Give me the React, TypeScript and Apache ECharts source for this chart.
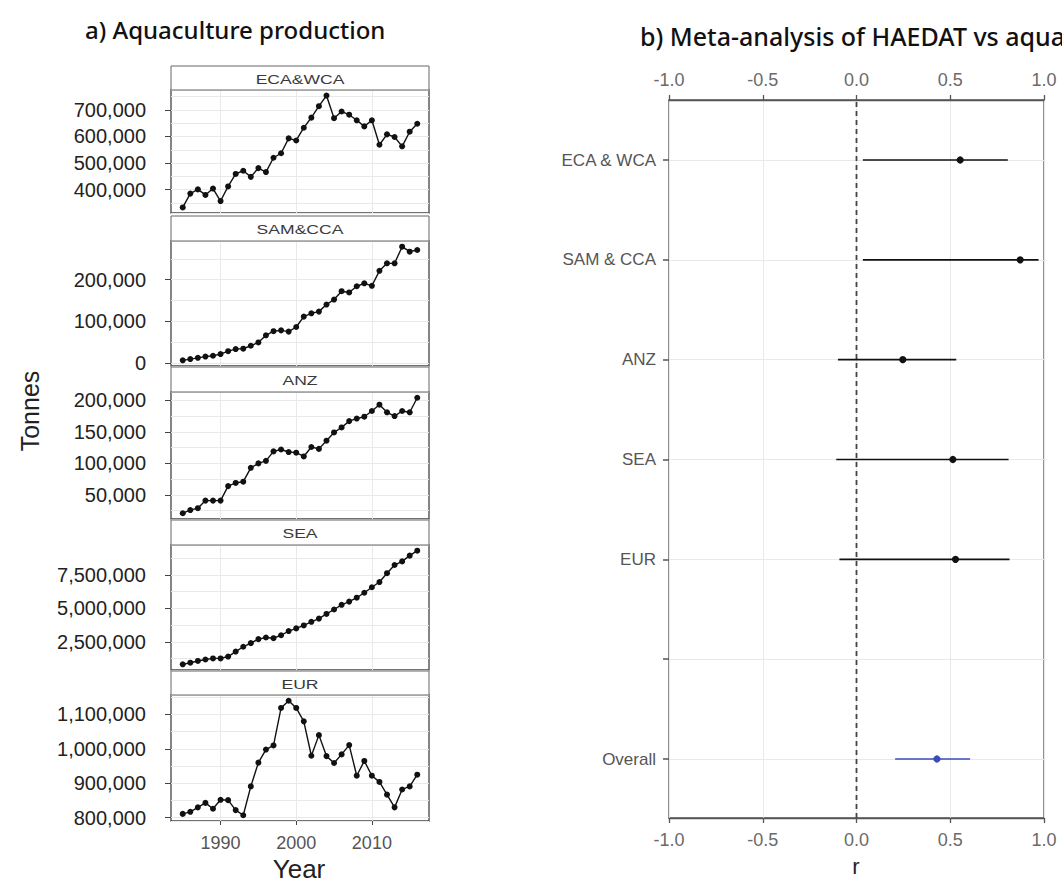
import React, { useEffect, useRef } from "react";
import * as echarts from "echarts";

// ---------- data ----------
const years = [
  1985, 1986, 1987, 1988, 1989, 1990, 1991, 1992, 1993, 1994, 1995, 1996, 1997, 1998, 1999, 2000,
  2001, 2002, 2003, 2004, 2005, 2006, 2007, 2008, 2009, 2010, 2011, 2012, 2013, 2014, 2015, 2016,
];
const ecaWca = [
  333000, 385000, 401000, 380000, 404000, 357000, 412000, 459000, 471000, 448000, 481000, 466000,
  520000, 537000, 593000, 585000, 633000, 671000, 714000, 754000, 669000, 694000, 682000, 661000,
  638000, 661000, 569000, 608000, 598000, 563000, 618000, 648000,
];
const samCca = [
  6000, 9000, 12000, 15000, 17000, 21000, 28000, 33000, 34000, 41000, 49000, 66000, 76000, 78000,
  75000, 86000, 111000, 119000, 123000, 140000, 152000, 172000, 169000, 184000, 191000, 185000,
  221000, 239000, 239000, 279000, 267000, 271000,
];
const anz = [
  21000, 26000, 29000, 41000, 41000, 41000, 64000, 69000, 71000, 93000, 100000, 104000, 119000,
  122000, 118000, 117000, 111000, 126000, 123000, 136000, 149000, 157000, 167000, 171000, 174000,
  183000, 193000, 181000, 175000, 183000, 181000, 204000,
];
const sea = [
  820000, 940000, 1070000, 1180000, 1260000, 1260000, 1400000, 1770000, 2130000, 2400000, 2700000,
  2820000, 2770000, 2990000, 3300000, 3500000, 3720000, 3990000, 4230000, 4580000, 4910000,
  5260000, 5500000, 5790000, 6160000, 6570000, 6960000, 7620000, 8230000, 8500000, 8930000, 9300000,
];
const eur = [
  811000, 817000, 830000, 843000, 826000, 852000, 851000, 822000, 807000, 891000, 960000, 998000,
  1010000, 1119000, 1140000, 1119000, 1080000, 980000, 1040000, 979000, 959000, 984000, 1011000,
  922000, 965000, 922000, 904000, 867000, 830000, 882000, 891000, 925000,
];

const facetNames = ["ECA&WCA", "SAM&CCA", "ANZ", "SEA", "EUR"];
const ecaTicks = [400000, 500000, 600000, 700000];
const samTicks = [0, 100000, 200000];
const anzTicks = [50000, 100000, 150000, 200000];
const seaTicks = [2500000, 5000000, 7500000];
const eurTicks = [800000, 900000, 1000000, 1100000];
const yearTicks = [1990, 2000, 2010];

const forestLabels = ["ECA & WCA", "SAM & CCA", "ANZ", "SEA", "EUR", "", "Overall"];
const forestEst = [0.553, 0.873, 0.247, 0.514, 0.528, null, 0.429];
const forestLo = [0.034, 0.034, -0.099, -0.108, -0.091, null, 0.206];
const forestHi = [0.807, 0.971, 0.532, 0.811, 0.816, null, 0.606];
const rTicks = [-1, -0.5, 0, 0.5, 1];

// ---------- layout ----------
const FONT = "Liberation Sans";
const TITLE_FONT = "Noto Sans";
const PANEL_LEFT = 171;
const PANEL_W = 258;
const panelLayout = [
  { strip: 66, top: 90, bottom: 213 },
  { strip: 216, top: 241, bottom: 366 },
  { strip: 367, top: 392, bottom: 519 },
  { strip: 520, top: 545, bottom: 670 },
  { strip: 671, top: 695, bottom: 821 },
];
const facetSeries = [ecaWca, samCca, anz, sea, eur];
const facetTicks = [ecaTicks, samTicks, anzTicks, seaTicks, eurTicks];

const expand = (arr: number[]) => {
  const lo = Math.min(...arr);
  const hi = Math.max(...arr);
  const pad = (hi - lo) * 0.05;
  return [lo - pad, hi + pad];
};

const GRID_COLOR = "#e9e9e9";

export default function App() {
  const ref = useRef<HTMLDivElement>(null);

  useEffect(() => {
    if (!ref.current) return;
    const chart = echarts.init(ref.current, undefined, { renderer: "svg" });

    const grids: any[] = [];
    const xAxes: any[] = [];
    const yAxes: any[] = [];
    const series: any[] = [];
    const graphics: any[] = [];
    const [xMin, xMax] = expand(years);

    panelLayout.forEach((p, i) => {
      grids.push({
        left: PANEL_LEFT,
        width: PANEL_W,
        top: p.top,
        height: p.bottom - p.top,
        show: true,
        borderColor: "#444",
        borderWidth: 1.3,
        containLabel: false,
      });
      const isLast = i === panelLayout.length - 1;
      xAxes.push({
        type: "value",
        gridIndex: i,
        min: xMin,
        max: xMax,
        minInterval: 5,
        maxInterval: 5,
        axisLine: { show: false, onZero: false },
        axisTick: {
          show: isLast,
          customValues: yearTicks,
          length: 4,
          lineStyle: { color: "#444" },
        },
        axisLabel: {
          show: isLast,
          customValues: yearTicks,
          formatter: (v: number) => (v % 10 === 0 ? String(v) : ""),
          color: "#555",
          fontSize: 18,
          margin: 13,
          fontFamily: FONT,
        },
        splitLine: { show: true, lineStyle: { color: GRID_COLOR, width: 1 } },
      });
      const ticks = facetTicks[i];
      const step = ticks[1] - ticks[0];
      const [yMin, yMax] = expand(facetSeries[i]);
      // gridline axis (major + minor)
      yAxes.push({
        type: "value",
        gridIndex: i,
        min: yMin,
        max: yMax,
        minInterval: step / 2,
        maxInterval: step / 2,
        position: "left",
        axisLine: { show: false, onZero: false },
        axisTick: { show: false },
        axisLabel: { show: false },
        splitLine: { show: true, lineStyle: { color: GRID_COLOR, width: 1 } },
      });
      // label axis
      yAxes.push({
        type: "value",
        gridIndex: i,
        min: yMin,
        max: yMax,
        minInterval: step,
        maxInterval: step,
        position: "left",
        axisLine: { show: false, onZero: false },
        axisTick: { show: true, customValues: ticks, length: 6, lineStyle: { color: "#444" } },
        axisLabel: {
          show: true,
          customValues: ticks,
          formatter: (v: number) =>
            Math.abs(v % step) < 1e-6 ? Math.round(v).toLocaleString("en-US") : "",
          color: "#222",
          fontSize: 20,
          margin: 25,
          fontFamily: FONT,
        },
        splitLine: { show: false },
      });
      series.push({
        type: "line",
        xAxisIndex: i,
        yAxisIndex: 2 * i,
        data: years.map((y, k) => [y, facetSeries[i][k]]),
        symbol: "circle",
        symbolSize: 6,
        showSymbol: true,
        itemStyle: { color: "#111" },
        lineStyle: { color: "#111", width: 1.4 },
        z: 3,
      });
      // strip
      graphics.push({
        type: "rect",
        shape: { x: PANEL_LEFT, y: p.strip, width: PANEL_W, height: p.top - p.strip },
        style: { fill: "#fff", stroke: "#666", lineWidth: 1 },
        z: 10,
      });
      graphics.push({
        type: "text",
        x: PANEL_LEFT + PANEL_W / 2,
        y: (p.strip + p.top) / 2 + 1,
        scaleX: 1.35,
        style: {
          text: facetNames[i],
          fontSize: 13,
          fontFamily: FONT,
          fill: "#3a3a3a",
          textAlign: "center",
          textVerticalAlign: "middle",
        },
        z: 11,
      });
    });

    // ---------- forest plot ----------
    const FL = 669;
    const FW = 375;
    const frameGrid = grids.length;
    grids.push({
      left: FL,
      width: FW,
      top: 100,
      height: 718,
      show: true,
      borderColor: "#555",
      borderWidth: 1.3,
    });
    const catGrid = grids.length;
    grids.push({ left: FL, width: FW, top: 160, height: 599, show: false });

    const rAxisBase = (position: string, margin: number) => ({
      type: "value",
      gridIndex: frameGrid,
      position,
      min: -1,
      max: 1,
      minInterval: 0.25,
      maxInterval: 0.25,
      axisLine: { show: true, onZero: false, lineStyle: { color: "#555", width: 1.3 } },
      axisTick: { show: true, customValues: rTicks, length: 5, lineStyle: { color: "#555", width: 1.3 } },
      axisLabel: {
        show: true,
        customValues: rTicks,
        formatter: (v: number) => (Math.abs((v * 2) % 1) < 1e-6 ? v.toFixed(1) : ""),
        color: "#6a6a6a",
        fontSize: 18,
        margin,
        fontFamily: FONT,
      },
      splitLine: { show: position === "bottom", lineStyle: { color: GRID_COLOR, width: 1 } },
    });
    const xBottom = xAxes.length;
    xAxes.push(rAxisBase("bottom", 13));
    xAxes.push(rAxisBase("top", 11));
    const xCat = xAxes.length;
    xAxes.push({ type: "value", gridIndex: catGrid, min: -1, max: 1, show: false });

    const yFrame = yAxes.length;
    yAxes.push({ type: "value", gridIndex: frameGrid, min: 0, max: 1, show: false });
    const yCat = yAxes.length;
    yAxes.push({
      type: "category",
      gridIndex: catGrid,
      position: "left",
      data: forestLabels,
      inverse: true,
      boundaryGap: false,
      axisLine: { show: false, onZero: false },
      axisTick: { show: true, alignWithLabel: true, length: 6, lineStyle: { color: "#555", width: 1.5 } },
      axisLabel: { color: "#555", fontSize: 17, margin: 13, fontFamily: FONT, interval: 0 },
      splitLine: { show: true, interval: 0, lineStyle: { color: GRID_COLOR, width: 1 } },
    });

    series.push({
      type: "line",
      xAxisIndex: xBottom,
      yAxisIndex: yFrame,
      data: [
        [0, 0],
        [0, 1],
      ],
      showSymbol: false,
      symbol: "none",
      lineStyle: { color: "#444", width: 1.8, type: [5, 4] },
      z: 2,
    });

    const forestData: any[] = [];
    forestLabels.forEach((lab, k) => {
      if (forestEst[k] == null) return;
      forestData.push({
        value: [forestLo[k], k, forestHi[k], forestEst[k]],
        color: lab === "Overall" ? "#3b4cb8" : "#111",
      });
    });
    series.push({
      type: "custom",
      xAxisIndex: xCat,
      yAxisIndex: yCat,
      encode: { x: [0, 2, 3], y: 1 },
      data: forestData,
      renderItem: (params: any, api: any) => {
        const item = forestData[params.dataIndex];
        const cat = api.value(1);
        const p1 = api.coord([api.value(0), cat]);
        const p2 = api.coord([api.value(2), cat]);
        const pe = api.coord([api.value(3), cat]);
        return {
          type: "group",
          children: [
            {
              type: "line",
              shape: { x1: p1[0], y1: p1[1], x2: p2[0], y2: p2[1] },
              style: { stroke: item.color, lineWidth: 1.6 },
            },
            {
              type: "circle",
              shape: { cx: pe[0], cy: pe[1], r: 3.6 },
              style: { fill: item.color },
            },
          ],
        };
      },
      z: 4,
    });

    // ---------- titles ----------
    graphics.push(
      {
        type: "text",
        x: 85,
        y: 29,
        style: {
          text: "a) Aquaculture production",
          fontSize: 24,
          fontWeight: 500,
          fontFamily: TITLE_FONT,
          fill: "#111",
          textAlign: "left",
          textVerticalAlign: "middle",
        },
      },
      {
        type: "text",
        x: 640,
        y: 36,
        style: {
          text: "b) Meta-analysis of HAEDAT vs aquaculture",
          fontSize: 25,
          fontWeight: 500,
          fontFamily: TITLE_FONT,
          fill: "#111",
          textAlign: "left",
          textVerticalAlign: "middle",
        },
      },
      {
        type: "text",
        x: 30,
        y: 411,
        rotation: Math.PI / 2,
        style: {
          text: "Tonnes",
          fontSize: 25,
          fontFamily: FONT,
          fill: "#222",
          textAlign: "center",
          textVerticalAlign: "middle",
        },
      },
      {
        type: "text",
        x: 299,
        y: 869,
        style: {
          text: "Year",
          fontSize: 26,
          fontFamily: FONT,
          fill: "#222",
          textAlign: "center",
          textVerticalAlign: "middle",
        },
      },
      {
        type: "text",
        x: 856,
        y: 866,
        style: {
          text: "r",
          fontSize: 22,
          fontFamily: FONT,
          fill: "#222",
          textAlign: "center",
          textVerticalAlign: "middle",
        },
      }
    );

    chart.setOption({
      animation: false,
      backgroundColor: "#fff",
      textStyle: { fontFamily: FONT },
      grid: grids,
      xAxis: xAxes,
      yAxis: yAxes,
      series,
      graphic: graphics,
    });

    return () => chart.dispose();
  }, []);

  return (
    <div
      ref={ref}
      style={{ position: "fixed", left: 0, top: 0, width: 1062, height: 879, background: "#fff" }}
    />
  );
}
